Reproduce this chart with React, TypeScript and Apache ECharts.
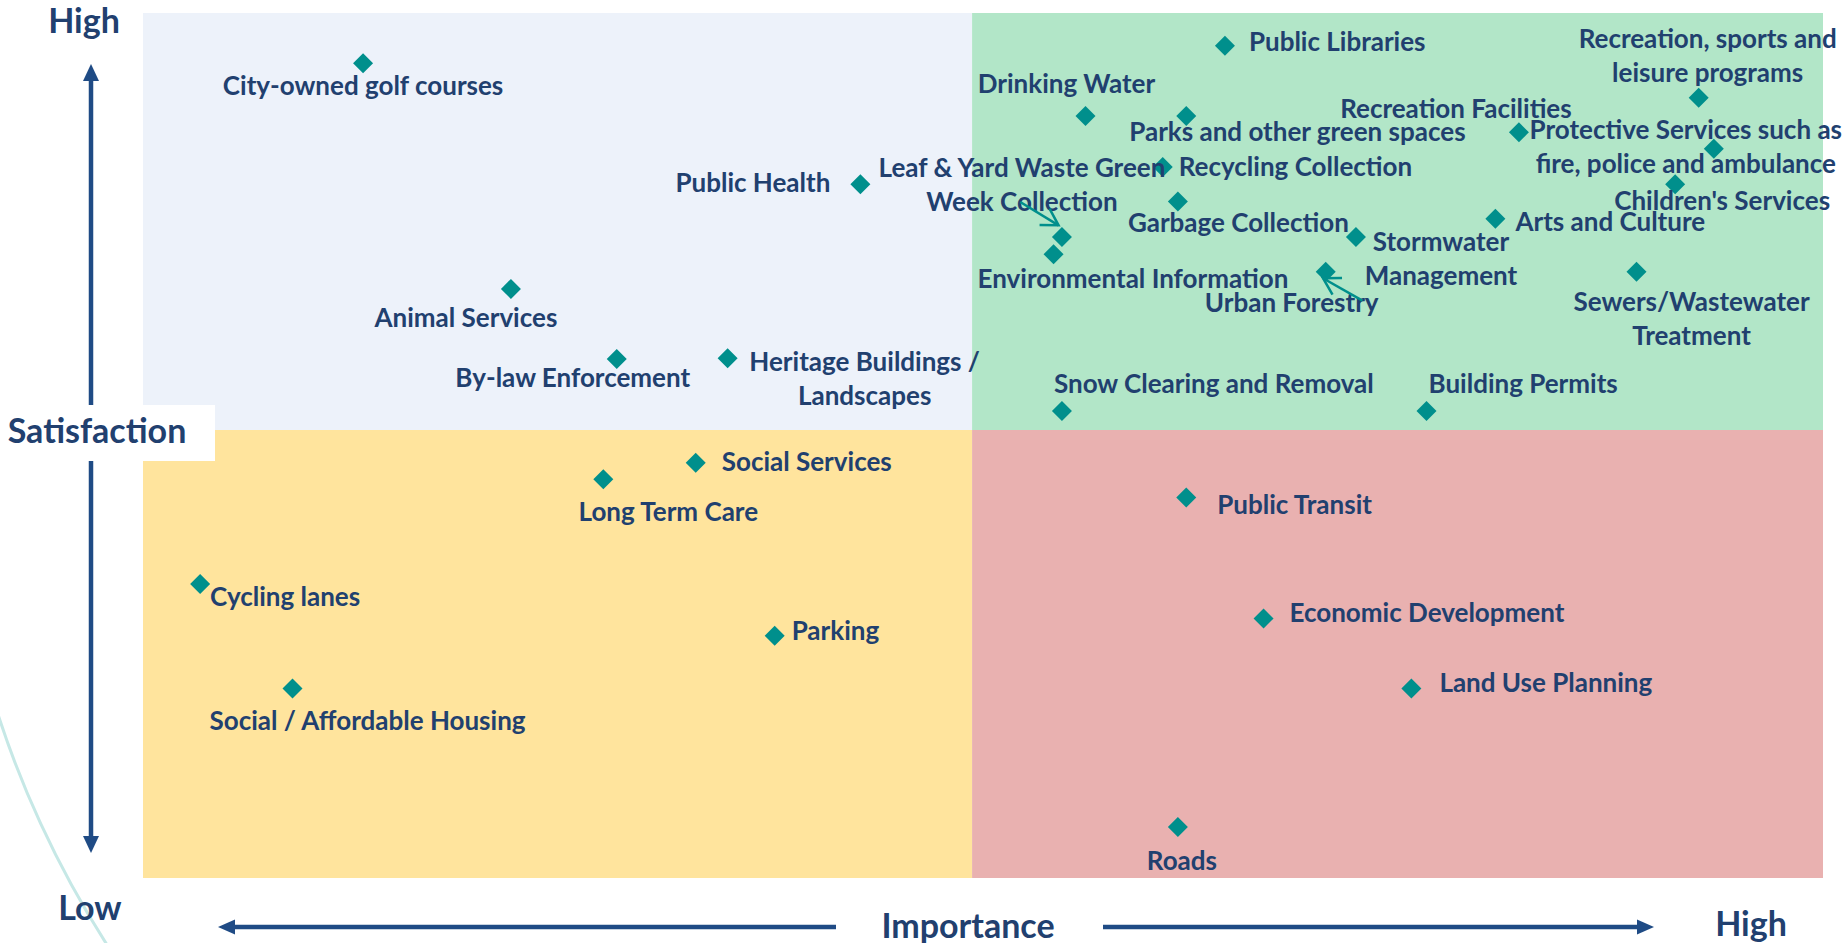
import React, { useEffect, useRef } from 'react';
import * as echarts from 'echarts';

// ---- data ----
const SERVICES: string[] = [
  'City-owned golf courses',
  'Animal Services',
  'By-law Enforcement',
  'Heritage Buildings /\nLandscapes',
  'Public Health',
  'Leaf & Yard Waste Green\nWeek Collection',
  'Environmental Information',
  'Drinking Water',
  'Parks and other green spaces',
  'Recycling Collection',
  'Garbage Collection',
  'Snow Clearing and Removal',
  'Public Libraries',
  'Recreation, sports and\nleisure programs',
  'Recreation Facilities',
  'Protective Services such as\nfire, police and ambulance',
  "Children's Services",
  'Arts and Culture',
  'Stormwater\nManagement',
  'Urban Forestry',
  'Sewers/Wastewater\nTreatment',
  'Building Permits',
  'Social Services',
  'Long Term Care',
  'Cycling lanes',
  'Parking',
  'Social / Affordable Housing',
  'Public Transit',
  'Economic Development',
  'Land Use Planning',
  'Roads',
];

const IMPORTANCE: number[] = [
  13.1, 21.9, 28.2, 34.8, 42.7, 54.7, 54.2, 56.1, 62.1, 60.7, 61.6, 54.7, 64.4, 92.6, 81.9, 93.5,
  91.2, 80.5, 72.2, 70.4, 88.9, 76.4, 32.9, 27.4, 3.4, 37.6, 8.9, 62.1, 66.7, 75.5, 61.6,
];

const SATISFACTION: number[] = [
  94.2, 68.1, 60.0, 60.1, 80.2, 74.1, 72.1, 88.1, 88.1, 82.2, 78.2, 54.0, 96.2, 90.2, 86.2, 84.3,
  80.2, 76.2, 74.1, 70.1, 70.1, 54.0, 48.0, 46.1, 34.0, 28.0, 21.9, 44.0, 30.0, 21.9, 5.9,
];

const X_DIVIDER = 49.35;
const Y_DIVIDER = 51.8;

const Y_AXIS_TEXT = ['High', 'Satisfaction', 'Low'];
const X_AXIS_TEXT = ['Importance', 'High'];

// ---- label layout (pixel offsets from the marker centre) ----
type LabelLayout = { align: 'left' | 'center' | 'right'; dx: number; dy: number };
const LABEL_LAYOUT: LabelLayout[] = [
  { align: 'center', dx: 0, dy: 23 },
  { align: 'center', dx: -45, dy: 30 },
  { align: 'center', dx: -44, dy: 19 },
  { align: 'center', dx: 137, dy: 21 },
  { align: 'right', dx: -30, dy: -1 },
  { align: 'center', dx: -40, dy: -52 },
  { align: 'left', dx: -76, dy: 25 },
  { align: 'center', dx: -19, dy: -31 },
  { align: 'left', dx: -57, dy: 17 },
  { align: 'left', dx: 16, dy: 1 },
  { align: 'left', dx: -50, dy: 22 },
  { align: 'left', dx: -8, dy: -26 },
  { align: 'left', dx: 24, dy: -3 },
  { align: 'center', dx: 9, dy: -41 },
  { align: 'center', dx: -63, dy: -23 },
  { align: 'center', dx: -28, dy: -1 },
  { align: 'center', dx: 47, dy: 17 },
  { align: 'left', dx: 20, dy: 4 },
  { align: 'center', dx: 85, dy: 22 },
  { align: 'center', dx: -34, dy: 32 },
  { align: 'center', dx: 55, dy: 48 },
  { align: 'left', dx: 2, dy: -26 },
  { align: 'left', dx: 26, dy: 0 },
  { align: 'center', dx: 65, dy: 33 },
  { align: 'left', dx: 10, dy: 14 },
  { align: 'left', dx: 17, dy: -4 },
  { align: 'left', dx: -83, dy: 33 },
  { align: 'left', dx: 31, dy: 8 },
  { align: 'left', dx: 26, dy: -5 },
  { align: 'left', dx: 28, dy: -5 },
  { align: 'center', dx: 4, dy: 35 },
];
const LABEL_BASELINE_NUDGE = -1.5;

// callout arrows: target marker index, start / tip offsets in px from marker centre
const CALLOUTS = [
  { target: 5, from: [-41.7, -35], to: [-3.4, -11.7] },
  { target: 19, from: [36.7, 29], to: [-2.7, 6.6] },
];

const NAVY_TEXT = '#21406F';
const NAVY_ARROW = '#1F4B85';
const TEAL = '#008F8C';
const Q_BLUE = '#EDF2FA';
const Q_GREEN = '#B2E6C8';
const Q_YELLOW = '#FFE49D';
const Q_PINK = '#E9B1B0';
const FONT = 'Lato, "Open Sans", sans-serif';

export default function App() {
  const ref = useRef<HTMLDivElement>(null);

  useEffect(() => {
    if (!ref.current) return;
    const chart = echarts.init(ref.current, undefined, { renderer: 'svg' });

    const data = SERVICES.map((name, i) => ({
      name,
      value: [IMPORTANCE[i], SATISFACTION[i]],
      label: {
        align: LABEL_LAYOUT[i].align,
        offset: [LABEL_LAYOUT[i].dx, LABEL_LAYOUT[i].dy + LABEL_BASELINE_NUDGE],
      },
    }));

    chart.setOption({
      animation: false,
      backgroundColor: '#ffffff',
      grid: { left: 143, right: 22, top: 13, bottom: 65, containLabel: false },
      xAxis: { type: 'value', min: 0, max: 100, show: false },
      yAxis: { type: 'value', min: 0, max: 100, show: false },
      series: [
        {
          type: 'scatter',
          symbol: 'diamond',
          symbolSize: 20,
          itemStyle: { color: TEAL, opacity: 1 },
          z: 5,
          label: {
            show: true,
            position: 'inside',
            verticalAlign: 'middle',
            formatter: '{b}',
            color: NAVY_TEXT,
            fontFamily: FONT,
            fontWeight: 'bold',
            fontSize: 26,
            lineHeight: 34,
          },
          data,
          markArea: {
            silent: true,
            label: { show: false },
            data: [
              [
                { xAxis: 0, yAxis: Y_DIVIDER, itemStyle: { color: Q_BLUE, opacity: 1 } },
                { xAxis: X_DIVIDER, yAxis: 100 },
              ],
              [
                { xAxis: X_DIVIDER, yAxis: Y_DIVIDER, itemStyle: { color: Q_GREEN, opacity: 1 } },
                { xAxis: 100, yAxis: 100 },
              ],
              [
                { xAxis: 0, yAxis: 0, itemStyle: { color: Q_YELLOW, opacity: 1 } },
                { xAxis: X_DIVIDER, yAxis: Y_DIVIDER },
              ],
              [
                { xAxis: X_DIVIDER, yAxis: 0, itemStyle: { color: Q_PINK, opacity: 1 } },
                { xAxis: 100, yAxis: Y_DIVIDER },
              ],
            ],
          },
        },
      ],
    });

    // callout arrows, positioned from the marker pixels
    const calloutEls: any[] = [];
    CALLOUTS.forEach((c, k) => {
      const p = chart.convertToPixel({ gridIndex: 0 }, [IMPORTANCE[c.target], SATISFACTION[c.target]]) as number[];
      const sx = p[0] + c.from[0];
      const sy = p[1] + c.from[1];
      const tx = p[0] + c.to[0];
      const ty = p[1] + c.to[1];
      const ang = Math.atan2(sy - ty, sx - tx);
      const len = 19;
      const spread = 0.53;
      const a1 = [tx + len * Math.cos(ang - spread), ty + len * Math.sin(ang - spread)];
      const a2 = [tx + len * Math.cos(ang + spread), ty + len * Math.sin(ang + spread)];
      calloutEls.push({
        type: 'line',
        id: 'callout-line-' + k,
        z: 50,
        shape: { x1: sx, y1: sy, x2: tx, y2: ty },
        style: { stroke: TEAL, lineWidth: 2.5 },
      });
      calloutEls.push({
        type: 'polyline',
        id: 'callout-head-' + k,
        z: 50,
        shape: { points: [a1, [tx, ty], a2] },
        style: { stroke: TEAL, lineWidth: 2.5, fill: null },
      });
    });

    const headerText = (id: string, text: string, x: number, y: number) => ({
      type: 'text',
      id,
      z: 60,
      x,
      y,
      style: {
        text,
        fill: NAVY_TEXT,
        font: `bold 34px ${FONT}`,
        lineHeight: 30,
        align: 'center',
        verticalAlign: 'middle',
      },
    });

    chart.setOption({
      graphic: [
        // decorative arc
        {
          type: 'arc',
          id: 'deco-arc',
          z: 1,
          shape: { cx: 939, cy: 410, r: 989, startAngle: 2.45, endAngle: 2.97, clockwise: true },
          style: { stroke: '#C6E8E6', lineWidth: 3, fill: null },
        },
        // vertical axis arrow
        {
          type: 'line',
          id: 'v-line',
          z: 40,
          shape: { x1: 91, y1: 78, x2: 91, y2: 839 },
          style: { stroke: NAVY_ARROW, lineWidth: 4.5 },
        },
        {
          type: 'polygon',
          id: 'v-head-up',
          z: 40,
          shape: { points: [[91, 64], [83, 81], [99, 81]] },
          style: { fill: NAVY_ARROW },
        },
        {
          type: 'polygon',
          id: 'v-head-down',
          z: 40,
          shape: { points: [[91, 853], [83, 836], [99, 836]] },
          style: { fill: NAVY_ARROW },
        },
        // horizontal axis arrow
        {
          type: 'line',
          id: 'h-line',
          z: 40,
          shape: { x1: 231, y1: 927, x2: 1640, y2: 927 },
          style: { stroke: NAVY_ARROW, lineWidth: 4.5 },
        },
        {
          type: 'polygon',
          id: 'h-head-left',
          z: 40,
          shape: { points: [[218, 927], [235, 919.5], [235, 934.5]] },
          style: { fill: NAVY_ARROW },
        },
        {
          type: 'polygon',
          id: 'h-head-right',
          z: 40,
          shape: { points: [[1654, 927], [1637, 919.5], [1637, 934.5]] },
          style: { fill: NAVY_ARROW },
        },
        // white boxes behind the axis titles
        {
          type: 'rect',
          id: 'sat-box',
          z: 55,
          shape: { x: 0, y: 405, width: 215, height: 56 },
          style: { fill: '#ffffff' },
        },
        {
          type: 'rect',
          id: 'imp-box',
          z: 55,
          shape: { x: 836, y: 905, width: 267, height: 38 },
          style: { fill: '#ffffff' },
        },
        headerText('t-high-y', Y_AXIS_TEXT[0], 84, 19),
        headerText('t-sat', Y_AXIS_TEXT[1], 97, 429),
        headerText('t-low', Y_AXIS_TEXT[2], 90, 906),
        headerText('t-imp', X_AXIS_TEXT[0], 968, 924),
        headerText('t-high-x', X_AXIS_TEXT[1], 1751, 922),
        ...calloutEls,
      ],
    });

    return () => {
      chart.dispose();
    };
  }, []);

  return (
    <div
      ref={ref}
      style={{ position: 'fixed', left: 0, top: 0, width: '1845px', height: '943px', background: '#ffffff' }}
    />
  );
}
